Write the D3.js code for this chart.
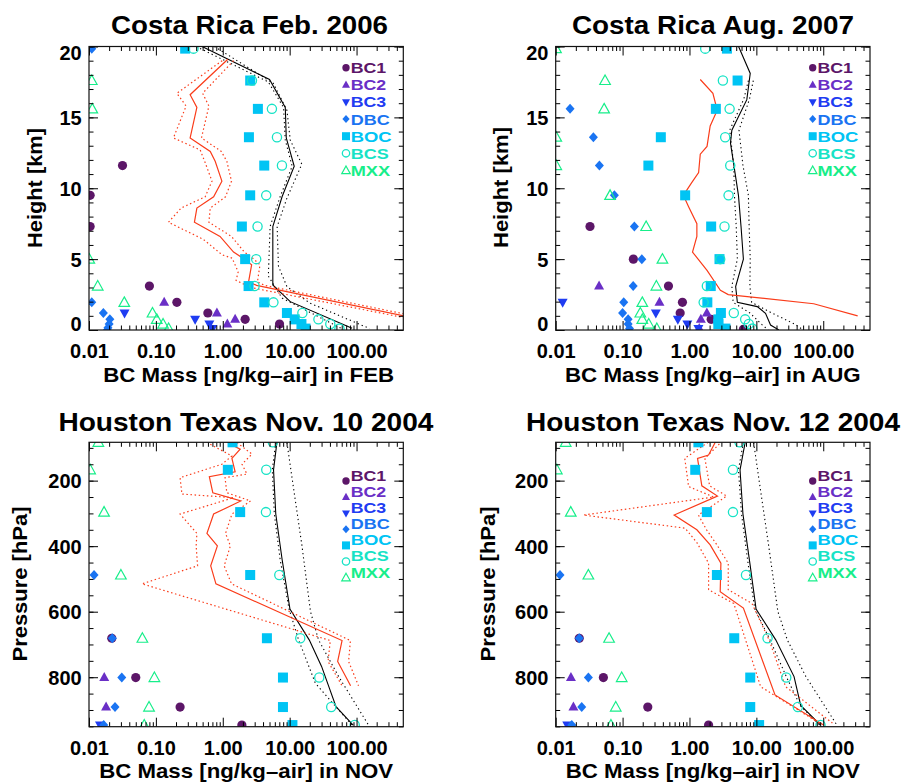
<!DOCTYPE html>
<html><head><meta charset="utf-8">
<script src="https://cdn.jsdelivr.net/npm/d3@7"></script>
<style>
body{margin:0;background:#fff}
text{font-family:"Liberation Sans",Arial,Helvetica,sans-serif;font-weight:bold}
</style>
</head><body>
<svg id="c" width="901" height="783"></svg>
<script>
// ---------------- data ----------------
const seriesNames  = ["BC1","BC2","BC3","DBC","BOC","BCS","MXX"];
const seriesColors = ["#5c1668","#6a2fc6","#1f3cf2","#1a74f2","#00c4f4","#17e3c6","#17ee8a"];
const seriesShapes = ["circleF","triUp","triDown","diamond","square","circleO","triO"];
const legendWidths = [35.5,35.5,35.5,39,41,38,39.5];

const xTickValues = [0.01,0.1,1,10,100];
const xTickLabels = ["0.01","0.10","1.00","10.00","100.00"];
const heightTicks = [0,5,10,15,20];
const pressureTicks = [200,400,600,800];

// Costa Rica Feb 2006  [height km, mass]
const feb_BC1 = [[11.6,0.0317],[9.5,0.0104],[7.3,0.0104],[3.1,0.080],[1.95,0.206],[1.2,0.598],[0.75,2.16],[0.42,7.06]];
const feb_BC2 = [[1.95,0.133],[1.2,0.817],[0.75,1.53],[0.42,1.17]];
const feb_BC3 = [[1.2,0.034],[0.75,0.386],[0.42,0.63],[0.1,0.70]];
const feb_DBC = [[19.85,0.011],[1.95,0.011],[1.2,0.0164],[0.75,0.0205],[0.42,0.0200],[0.15,0.0192],[0.0,0.0188]];
const feb_BOC = [[19.85,0.274],[17.6,2.57],[15.6,3.35],[13.6,2.46],[11.6,4.17],[9.5,2.57],[7.3,1.93],[5.0,2.16],[3.1,2.43],[1.95,4.17],[1.2,9.1],[0.75,11.9],[0.42,15.0],[0.1,17.3]];
const feb_BCS = [[19.85,0.365],[17.6,2.73],[15.6,5.43],[13.6,6.46],[11.6,7.67],[9.5,4.46],[7.3,3.31],[5.0,3.16],[3.1,2.99],[1.95,5.72],[1.2,15.5],[0.75,26.9],[0.42,40.5],[0.1,55.5]];
const feb_MXX = [[17.6,0.011],[15.6,0.0112],[5.0,0.0101],[3.1,0.0135],[1.95,0.0337],[1.2,0.089],[0.75,0.103],[0.42,0.128],[0.1,0.155]];
const feb_redMean = [[19.1,1.19],[16.6,0.325],[15.7,0.41],[13.55,0.325],[12.6,0.65],[11.9,0.77],[10.5,0.97],[9.4,0.73],[8.6,0.41],[7.6,0.377],[6.6,0.91],[5.5,1.45],[5.07,2.0],[4.6,2.7],[3.4,2.43],[3.15,3.2],[0.75,930]];
const feb_redLo   = [[19.0,0.98],[16.7,0.206],[15.8,0.283],[13.55,0.183],[12.7,0.46],[11.8,0.546],[10.5,0.69],[9.4,0.546],[8.6,0.238],[7.6,0.154],[6.4,0.51],[5.3,0.98],[5.07,1.38],[4.1,1.70],[3.5,1.58],[3.0,2.6],[0.75,700]];
const feb_redHi   = [[19.0,1.45],[16.7,0.50],[15.8,0.62],[13.55,0.48],[12.6,0.95],[11.9,1.15],[10.5,1.35],[9.4,1.1],[8.6,0.65],[7.6,0.62],[6.6,1.35],[5.5,2.1],[5.07,2.8],[4.6,3.6],[3.4,3.3],[3.15,4.2],[0.75,1300]];
const feb_blackMean = [[20,0.49],[17.67,5.0],[15.7,8.6],[13.55,8.9],[11.55,11.7],[9.4,7.7],[7.3,5.6],[3.18,5.6],[2.0,10.2],[0.12,85.7]];
const feb_blackLo   = [[20,0.40],[17.5,4.8],[15.7,8.1],[13.4,8.6],[11.55,10.9],[9.4,7.2],[7.3,5.1],[3.8,4.8],[2.25,7.7],[0.1,60]];
const feb_blackHi   = [[20,0.75],[17.4,5.7],[15.5,9.1],[13.4,10.2],[11.7,15.2],[9.3,9.1],[7.3,6.5],[4.5,6.8],[3.06,9.1],[1.9,20],[0.1,157]];

// Costa Rica Aug 2007
const aug_BC1 = [[7.3,0.0326],[5.0,0.145],[3.1,0.485],[1.95,0.785],[1.2,0.726],[0.75,2.11],[0.05,6.4]];
const aug_BC2 = [[3.1,0.0445],[1.95,0.356],[1.2,1.82],[0.75,1.48],[0.1,1.4]];
const aug_BC3 = [[1.95,0.0127],[1.2,0.314],[0.75,0.67],[0.42,0.93],[0.1,1.36]];
const aug_DBC = [[15.6,0.0164],[13.6,0.0366],[11.6,0.045],[9.5,0.0754],[7.3,0.150],[5.0,0.194],[3.1,0.144],[1.95,0.104],[1.2,0.100],[0.75,0.121],[0.42,0.121],[0.1,0.127]];
const aug_BOC = [[19.85,3.63],[17.6,5.24],[15.6,2.48],[13.6,0.373],[11.6,0.243],[9.5,0.862],[7.3,2.11],[5.0,2.81],[3.1,2.08],[1.95,1.85],[1.2,2.95],[0.75,2.7],[0.42,2.7],[0.1,3.45]];
const aug_BCS = [[19.85,1.72],[17.6,3.16],[15.6,3.98],[13.6,3.42],[11.6,4.07],[9.5,3.84],[7.3,3.34],[5.0,2.88],[3.1,1.82],[1.95,1.63],[1.2,4.6],[0.75,6.8],[0.42,7.7],[0.1,8.7]];
const aug_MXX = [[19.85,0.0101],[17.6,0.0547],[15.6,0.053],[13.6,0.0102],[11.6,0.0102],[9.5,0.065],[7.3,0.225],[5.0,0.394],[3.1,0.32],[1.95,0.197],[1.2,0.184],[0.75,0.197],[0.42,0.246],[0.1,0.325]];
const aug_redMean = [[17.67,1.45],[16.7,2.24],[15.5,2.6],[14.4,2.04],[12.95,1.83],[12.4,1.45],[11.1,1.37],[10.4,1.08],[9.5,0.81],[8.7,0.97],[7.5,1.29],[6.6,1.29],[5.5,1.11],[4.2,1.83],[2.8,2.9],[2.5,3.8],[1.85,72],[1.0,327]];
const aug_blackMean = [[20,5.42],[18.1,8.1],[16.25,7.2],[14.1,4.3],[13.2,4.1],[9.5,5.4],[7.3,5.9],[5.0,6.4],[3.06,4.9],[1.96,5.2],[1.65,10.3],[1.18,13.7],[0.35,16.3],[0,21.7]];
const aug_blackLo   = [[17.6,7.6],[16.3,6.5],[14.1,4.0],[11.6,4.6],[9.5,4.7],[7.3,5.0],[5.0,5.2],[3.1,4.3],[1.95,4.5],[1.2,8.0],[0.4,12],[0,15]];
const aug_blackHi   = [[17.6,9.0],[16.3,7.9],[14.1,5.5],[11.6,6.3],[9.5,7.6],[7.3,7.8],[5.0,8.1],[3.1,8.0],[1.95,8.5],[1.2,17],[0.4,38],[0,50]];

// Houston Nov 10 2004  [pressure hPa, mass]
const n10_BC1 = [[681,0.0219],[801,0.050],[891,0.230],[946,1.93]];
const n10_BC2 = [[801,0.0169],[891,0.018]];
const n10_BC3 = [[946,0.0146]];
const n10_DBC = [[488,0.0119],[681,0.0223],[801,0.0309],[891,0.0245],[946,0.0166]];
const n10_BOC = [[83,1.40],[167,1.19],[296,1.82],[488,2.57],[681,4.57],[801,7.94],[891,7.94],[946,11.0]];
const n10_BCS = [[83,5.6],[167,4.47],[296,4.42],[488,7.0],[681,14.4],[801,27.7],[891,41.8],[946,93.9]];
const n10_MXX = [[83,0.0138],[167,0.0104],[296,0.0168],[488,0.030],[681,0.0628],[801,0.095],[891,0.079],[946,0.067]];
const n10_redMean = [[86,1.22],[104,1.82],[132,1.37],[173,1.53],[188,0.63],[237,0.71],[262,1.86],[302,0.73],[361,0.58],[399,0.83],[460,0.66],[515,0.79],[688,60.7],[752,52.2],[826,81.5]];
const n10_redLo   = [[89,0.65],[125,1.37],[150,0.97],[191,0.23],[241,0.245],[252,1.45],[302,0.23],[361,0.41],[399,0.40],[460,0.42],[515,0.062],[688,40.5],[752,37.5],[826,60.7]];
const n10_redHi   = [[84,1.63],[119,2.73],[150,1.94],[180,2.3],[191,1.08],[237,1.15],[262,2.6],[302,1.37],[361,1.1],[399,1.3],[460,1.05],[515,1.35],[688,81],[752,76],[826,107]];
const n10_blackMean = [[83,6.45],[167,5.74],[302,6.2],[440,7.7],[592,10.1],[686,19.6],[767,30],[890,49.3],[946,89]];
const n10_blackLo   = [[83,6.2],[167,5.5],[302,5.9],[440,7.2],[592,9.8],[686,13.6],[818,24.2],[946,85]];
const n10_blackHi   = [[83,9.1],[200,11.0],[400,15.3],[600,20.5],[686,27],[798,54],[946,151]];

// Houston Nov 12 2004
const n12_BC1 = [[681,0.0225],[801,0.0516],[891,0.238],[946,1.93]];
const n12_BC2 = [[801,0.0169],[891,0.0184]];
const n12_BC3 = [[946,0.0149]];
const n12_DBC = [[488,0.0116],[681,0.0225],[801,0.0308],[891,0.0245],[946,0.0174]];
const n12_BOC = [[83,1.36],[167,1.22],[296,1.82],[488,2.57],[681,4.67],[801,8.1],[891,8.1],[946,11.0]];
const n12_BCS = [[83,5.6],[167,4.47],[296,4.47],[488,7.0],[681,14.7],[801,28.0],[891,41.7],[946,91]];
const n12_MXX = [[83,0.0141],[167,0.0104],[296,0.0168],[488,0.0308],[681,0.0628],[801,0.097],[891,0.079],[946,0.067]];
const n12_redMean = [[83,2.43],[122,1.93],[132,1.32],[216,1.53],[247,2.62],[305,0.59],[350,1.29],[396,2.04],[452,2.95],[539,2.88],[589,6.4],[854,19.0],[946,101]];
const n12_redLo   = [[83,1.9],[132,0.85],[218,0.97],[250,2.3],[305,0.026],[345,0.86],[389,1.29],[452,1.93],[533,1.93],[575,4.6],[686,6.9],[829,11.6],[940,87]];
const n12_redHi   = [[88,2.8],[132,1.7],[216,2.0],[247,3.6],[305,1.36],[350,1.8],[396,2.57],[452,3.8],[533,3.8],[575,8.6],[686,15.5],[829,27.4],[940,137]];
const n12_blackMean = [[83,6.8],[167,5.7],[302,6.3],[460,8.1],[592,9.9],[686,19.5],[798,36.6],[886,46],[946,91.6]];
const n12_blackLo   = [[83,6.4],[167,5.4],[302,6.0],[460,7.6],[592,9.5],[686,16],[798,28],[886,45],[946,88]];
const n12_blackHi   = [[83,9.1],[200,11.0],[400,15.3],[600,21],[686,29],[798,55],[946,160]];

// ---------------- layout ----------------
const panels = [
 {title:"Costa Rica Feb. 2006", tx:249.5, ty:34.3, tl:277, xlab:"BC Mass [ng/kg\u2013air] in FEB", xlx:248.7, xly:381.7, xll:291,
  ylab:"Height [km]", ylx:41.7, yly:188, yll:120, kind:"h", box:[89,46.5,403.3,330],
  pts:[feb_BC1,feb_BC2,feb_BC3,feb_DBC,feb_BOC,feb_BCS,feb_MXX],
  red:[feb_redMean,feb_redLo,feb_redHi], black:[feb_blackMean,feb_blackLo,feb_blackHi],
  legMX:346, legTX:350.7, legY0:67.8, legDY:17.1, legMDY:0, legFS:15},
 {title:"Costa Rica Aug. 2007", tx:713, ty:34.3, tl:282, xlab:"BC Mass [ng/kg\u2013air] in AUG", xlx:712.8, xly:381.7, xll:295.7,
  ylab:"Height [km]", ylx:507.5, yly:187.5, yll:121, kind:"h", box:[555.7,46.5,870,330],
  pts:[aug_BC1,aug_BC2,aug_BC3,aug_DBC,aug_BOC,aug_BCS,aug_MXX],
  red:[aug_redMean], black:[aug_blackMean,aug_blackLo,aug_blackHi],
  legMX:812.7, legTX:817.4, legY0:67.8, legDY:17.1, legMDY:0, legFS:15},
 {title:"Houston Texas Nov. 10 2004", tx:245.9, ty:430.7, tl:375, xlab:"BC Mass [ng/kg\u2013air] in NOV", xlx:246.2, xly:778.3, xll:294,
  ylab:"Pressure [hPa]", ylx:27.3, yly:584, yll:155, kind:"p", box:[89,442.3,403.3,726.7],
  pts:[n10_BC1,n10_BC2,n10_BC3,n10_DBC,n10_BOC,n10_BCS,n10_MXX],
  red:[n10_redMean,n10_redLo,n10_redHi], black:[n10_blackMean,n10_blackLo,n10_blackHi],
  legMX:346, legTX:350.7, legY0:475.8, legDY:16.1, legMDY:5.2, legFS:14.2},
 {title:"Houston Texas Nov. 12 2004", tx:713, ty:430.7, tl:374, xlab:"BC Mass [ng/kg\u2013air] in NOV", xlx:712.8, xly:778.3, xll:294.3,
  ylab:"Pressure [hPa]", ylx:494.5, yly:584, yll:155, kind:"p", box:[555.7,442.3,870,726.7],
  pts:[n12_BC1,n12_BC2,n12_BC3,n12_DBC,n12_BOC,n12_BCS,n12_MXX],
  red:[n12_redMean,n12_redLo,n12_redHi], black:[n12_blackMean,n12_blackLo,n12_blackHi],
  legMX:812.7, legTX:817.4, legY0:475.8, legDY:16.1, legMDY:5.2, legFS:14.2}
];

const svg = d3.select("#c");
const RED = "#fa3c1a";

function marker(g, shape, cx, cy, color, s){
  const t = `translate(${cx},${cy}) scale(${s})`;
  if(shape==="circleF") g.append("circle").attr("cx",cx).attr("cy",cy).attr("r",4.6*s).attr("fill",color);
  else if(shape==="circleO") g.append("circle").attr("cx",cx).attr("cy",cy).attr("r",4.6*s).attr("fill","none").attr("stroke",color).attr("stroke-width",1.3);
  else if(shape==="square") g.append("rect").attr("x",cx-5*s).attr("y",cy-5*s).attr("width",10*s).attr("height",10*s).attr("fill",color);
  else if(shape==="triUp") g.append("path").attr("d","M0,-5.5L5,3.5L-5,3.5Z").attr("transform",t).attr("fill",color);
  else if(shape==="triDown") g.append("path").attr("d","M0,5.5L5,-3.5L-5,-3.5Z").attr("transform",t).attr("fill",color);
  else if(shape==="diamond") g.append("path").attr("d","M0,-5L4.5,0L0,5L-4.5,0Z").attr("transform",t).attr("fill",color);
  else if(shape==="triO") g.append("path").attr("d","M0,-5.5L5.3,4L-5.3,4Z").attr("transform",t).attr("fill","none").attr("stroke",color).attr("stroke-width",1.2/s);
}

panels.forEach((P,pi)=>{
  const [x0,y0,x1,y1] = P.box;
  const x = d3.scaleLog().domain([0.01,500]).range([x0,x1]);
  const y = P.kind==="h" ? d3.scaleLinear().domain([0,20]).range([y1,y0])
                         : d3.scaleLinear().domain([83,951]).range([y0,y1]);
  const g = svg.append("g");
  const cid = "clip"+pi;
  svg.append("clipPath").attr("id",cid).append("rect").attr("x",x0).attr("y",y0).attr("width",x1-x0).attr("height",y1-y0);
  const plot = g.append("g").attr("clip-path",`url(#${cid})`);

  const line = d3.line().x(d=>x(d[1])).y(d=>y(d[0]));
  P.black.forEach((L,i)=>{
    plot.append("path").attr("d",line(L)).attr("fill","none").attr("stroke","#000")
      .attr("stroke-width",1.1).attr("stroke-dasharray", i===0?null:"1.3,3");
  });
  P.red.forEach((L,i)=>{
    plot.append("path").attr("d",line(L)).attr("fill","none").attr("stroke",RED)
      .attr("stroke-width",1.2).attr("stroke-dasharray", i===0?null:"1.5,2.6");
  });
  P.pts.forEach((S,si)=>{
    S.forEach(d=> marker(plot, seriesShapes[si], x(d[1]), y(d[0]), seriesColors[si], 1));
  });

  // axes
  const minorX = [];
  for(let e=-2;e<=2;e++) for(let m=2;m<=9;m++){ const v=m*Math.pow(10,e); if(v<500) minorX.push(v); }
  const yMinor = P.kind==="h" ? d3.range(0,21,1) : d3.range(100,951,50);
  const yMajor = P.kind==="h" ? heightTicks : pressureTicks;

  const styleAxis = a => { a.select(".domain").remove(); a.selectAll("line").attr("stroke","#000").attr("stroke-width",1); };
  g.append("g").attr("transform",`translate(0,${y1})`).call(d3.axisBottom(x).tickValues(minorX).tickSize(-4.5).tickFormat("")).call(styleAxis);
  g.append("g").attr("transform",`translate(0,${y0})`).call(d3.axisTop(x).tickValues(minorX).tickSize(-4.5).tickFormat("")).call(styleAxis);
  g.append("g").attr("transform",`translate(0,${y0})`).call(d3.axisTop(x).tickValues(xTickValues).tickSize(-9).tickFormat("")).call(styleAxis);
  const bx = g.append("g").attr("transform",`translate(0,${y1})`)
    .call(d3.axisBottom(x).tickValues(xTickValues).tickSize(-9).tickFormat((d,i)=>xTickLabels[i])).call(styleAxis);
  bx.selectAll("text").attr("y",0).attr("dy",28.3).attr("font-size",20).attr("fill","#000")
    .style("font-family",'"Liberation Sans",Arial,sans-serif').style("font-weight","bold");

  g.append("g").attr("transform",`translate(${x0},0)`).call(d3.axisLeft(y).tickValues(yMinor).tickSize(-4.5).tickFormat("")).call(styleAxis);
  g.append("g").attr("transform",`translate(${x1},0)`).call(d3.axisRight(y).tickValues(yMinor).tickSize(-4.5).tickFormat("")).call(styleAxis);
  g.append("g").attr("transform",`translate(${x1},0)`).call(d3.axisRight(y).tickValues(yMajor).tickSize(-9).tickFormat("")).call(styleAxis);
  const ly = g.append("g").attr("transform",`translate(${x0},0)`)
    .call(d3.axisLeft(y).tickValues(yMajor).tickSize(-9).tickFormat(d=>String(d))).call(styleAxis);
  ly.selectAll("text").attr("x",-7.3).attr("dy","0.36em").attr("font-size",20).attr("fill","#000")
    .style("font-family",'"Liberation Sans",Arial,sans-serif').style("font-weight","bold");
  if(P.kind==="h"){
    ly.selectAll(".tick").filter(d=>d===0).select("text").attr("y",-6.7);
    ly.selectAll(".tick").filter(d=>d===20).select("text").attr("y",5.7);
  }
  g.append("rect").attr("x",x0).attr("y",y0).attr("width",x1-x0).attr("height",y1-y0)
    .attr("fill","none").attr("stroke","#111").attr("stroke-width",1.2);

  // titles & labels
  g.append("text").attr("x",P.tx).attr("y",P.ty).attr("text-anchor","middle").attr("font-size",25)
    .attr("textLength",P.tl).attr("lengthAdjust","spacingAndGlyphs").text(P.title);
  g.append("text").attr("x",P.xlx).attr("y",P.xly).attr("text-anchor","middle").attr("font-size",20.5)
    .attr("textLength",P.xll).attr("lengthAdjust","spacingAndGlyphs").text(P.xlab);
  g.append("text").attr("transform",`translate(${P.ylx},${P.yly}) rotate(-90)`).attr("text-anchor","middle")
    .attr("font-size",20.5).attr("textLength",P.yll).attr("lengthAdjust","spacingAndGlyphs").text(P.ylab);

  // legend
  seriesNames.forEach((n,i)=>{
    const cy = P.legY0 + i*P.legDY;
    marker(g, seriesShapes[i], P.legMX, cy + P.legMDY, seriesColors[i], 0.8);
    g.append("text").attr("x",P.legTX).attr("y",cy+P.legFS*0.36).attr("font-size",P.legFS)
      .attr("textLength",legendWidths[i]).attr("lengthAdjust","spacingAndGlyphs")
      .attr("fill",seriesColors[i]).text(n);
  });
});
</script>
</body></html>
